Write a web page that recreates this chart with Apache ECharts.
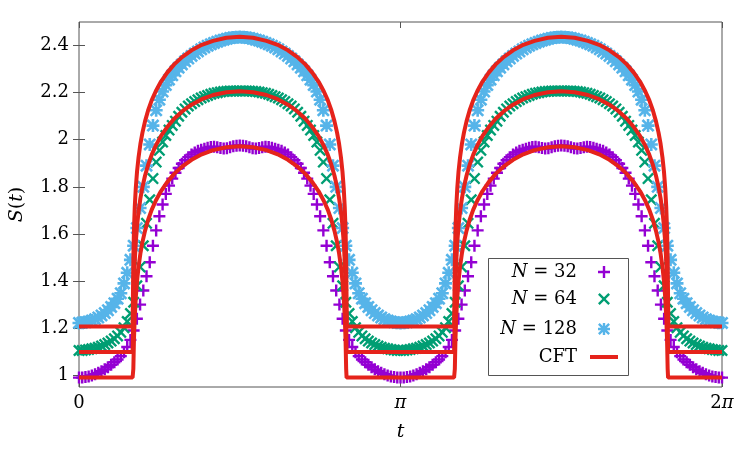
<!DOCTYPE html>
<html>
<head>
<meta charset="utf-8">
<script src="https://cdn.jsdelivr.net/npm/echarts@6/dist/echarts.min.js"></script>
<style>
  html, body { margin: 0; padding: 0; background: #fff; }
  #chart { width: 750px; height: 450px; }
</style>
</head>
<body>
<div id="chart"></div>
<script>
// lattice results, one period t in [0, pi), step pi/100 (the curve repeats with period pi)
const tStep = Math.PI / 100;
const n32Period = [
  0.99, 0.99, 0.992, 0.995, 0.999, 1.004, 1.01, 1.017, 1.025, 1.034, 1.044,
  1.055, 1.067, 1.081, 1.098, 1.12, 1.15, 1.19, 1.24, 1.30, 1.36,
  1.42, 1.48, 1.55, 1.615, 1.675, 1.725, 1.77, 1.805, 1.835, 1.86,
  1.88, 1.898, 1.913, 1.926, 1.937, 1.946, 1.953, 1.958, 1.962, 1.966,
  1.969, 1.97, 1.968, 1.965, 1.963, 1.964, 1.968, 1.972, 1.975, 1.976,
  1.975, 1.972, 1.968, 1.964, 1.963, 1.965, 1.968, 1.97, 1.969, 1.966,
  1.962, 1.958, 1.953, 1.946, 1.937, 1.926, 1.913, 1.898, 1.88, 1.86,
  1.835, 1.805, 1.77, 1.725, 1.675, 1.615, 1.55, 1.48, 1.42, 1.36,
  1.30, 1.24, 1.19, 1.15, 1.12, 1.098, 1.081, 1.067, 1.055, 1.044,
  1.034, 1.025, 1.017, 1.01, 1.004, 0.999, 0.995, 0.992, 0.99
];
const n64Period = [
  1.105, 1.105, 1.107, 1.109, 1.112, 1.115, 1.119, 1.124, 1.13, 1.137, 1.145,
  1.155, 1.167, 1.182, 1.202, 1.228, 1.262, 1.31, 1.38, 1.46, 1.55,
  1.645, 1.745, 1.835, 1.905, 1.955, 1.99, 2.018, 2.041, 2.061, 2.079,
  2.10, 2.117, 2.131, 2.143, 2.153, 2.162, 2.17, 2.177, 2.183, 2.188,
  2.193, 2.197, 2.2, 2.203, 2.205, 2.206, 2.207, 2.207, 2.207, 2.207,
  2.207, 2.207, 2.207, 2.206, 2.205, 2.203, 2.2, 2.197, 2.193, 2.188,
  2.183, 2.177, 2.17, 2.162, 2.153, 2.143, 2.131, 2.117, 2.10, 2.079,
  2.061, 2.041, 2.018, 1.99, 1.955, 1.905, 1.835, 1.745, 1.645, 1.55,
  1.46, 1.38, 1.31, 1.262, 1.228, 1.202, 1.182, 1.167, 1.155, 1.145,
  1.137, 1.13, 1.124, 1.119, 1.115, 1.112, 1.109, 1.107, 1.105
];
const n128Period = [
  1.222, 1.223, 1.225, 1.228, 1.232, 1.238, 1.245, 1.254, 1.264, 1.276, 1.29,
  1.306, 1.325, 1.348, 1.39, 1.435, 1.49, 1.55, 1.625, 1.71, 1.80,
  1.89, 1.98, 2.06, 2.125, 2.17, 2.205, 2.232, 2.255, 2.274, 2.291,
  2.306, 2.32, 2.333, 2.345, 2.356, 2.366, 2.375, 2.384, 2.392, 2.399,
  2.405, 2.411, 2.416, 2.421, 2.425, 2.429, 2.432, 2.434, 2.435, 2.436,
  2.435, 2.434, 2.432, 2.429, 2.425, 2.421, 2.416, 2.411, 2.405, 2.399,
  2.392, 2.384, 2.375, 2.366, 2.356, 2.345, 2.333, 2.32, 2.306, 2.291,
  2.274, 2.255, 2.232, 2.205, 2.17, 2.125, 2.06, 1.98, 1.89, 1.80,
  1.71, 1.625, 1.55, 1.49, 1.435, 1.39, 1.348, 1.325, 1.306, 1.29,
  1.276, 1.264, 1.254, 1.245, 1.238, 1.232, 1.228, 1.225, 1.223
];

// CFT curves, one period t in [0, pi]
const cftT = [
  0, 0.5236, 0.527, 0.531, 0.537, 0.545, 0.555, 0.567, 0.582, 0.6, 0.62, 0.645,
  0.675, 0.71, 0.75, 0.8, 0.86, 0.93, 1.01, 1.1, 1.2, 1.31, 1.44, 1.5708,
  1.7016, 1.8316, 1.9416, 2.0416, 2.1316, 2.2116, 2.2816, 2.3416, 2.3916, 2.4316,
  2.4666, 2.4966, 2.5216, 2.5416, 2.5596, 2.5746, 2.5866, 2.5966, 2.6046, 2.6106,
  2.6146, 2.618, 3.14159
];
const cft32Period = [
  0.99, 0.99, 0.99, 1.027, 1.152, 1.25, 1.331, 1.399, 1.461, 1.517, 1.565, 1.613,
  1.659, 1.702, 1.741, 1.781, 1.819, 1.855, 1.887, 1.915, 1.938, 1.956, 1.968, 1.972,
  1.968, 1.956, 1.938, 1.915, 1.887, 1.855, 1.819, 1.781, 1.741, 1.702,
  1.659, 1.613, 1.565, 1.517, 1.461, 1.399, 1.331, 1.25, 1.152, 1.027,
  0.99, 0.99, 0.99
];
const cft64Period = [
  1.099, 1.099, 1.099, 1.261, 1.386, 1.484, 1.565, 1.633, 1.695, 1.751, 1.799, 1.847,
  1.893, 1.936, 1.975, 2.015, 2.053, 2.089, 2.121, 2.149, 2.172, 2.19, 2.202, 2.206,
  2.202, 2.19, 2.172, 2.149, 2.121, 2.089, 2.053, 2.015, 1.975, 1.936,
  1.893, 1.847, 1.799, 1.751, 1.695, 1.633, 1.565, 1.484, 1.386, 1.261,
  1.099, 1.099, 1.099
];
const cft128Period = [
  1.207, 1.207, 1.328, 1.492, 1.617, 1.715, 1.796, 1.864, 1.926, 1.982, 2.03, 2.078,
  2.124, 2.167, 2.206, 2.246, 2.284, 2.32, 2.352, 2.38, 2.403, 2.42, 2.433, 2.437,
  2.433, 2.42, 2.403, 2.38, 2.352, 2.32, 2.284, 2.246, 2.206, 2.167,
  2.124, 2.078, 2.03, 1.982, 1.926, 1.864, 1.796, 1.715, 1.617, 1.492,
  1.328, 1.207, 1.207
];

const yTicks = [1, 1.2, 1.4, 1.6, 1.8, 2, 2.2, 2.4];
const xTicks = [0, Math.PI, 2 * Math.PI];

const font = "'DejaVu Serif', serif";
const red = '#e5231b';
const plusSym = 'path://M8,0H12V8H20V12H12V20H8V12H0V8H8Z';
const crossSym = 'path://M0,2.83L2.83,0L10,7.17L17.17,0L20,2.83L12.83,10L20,17.17L17.17,20L10,12.83L2.83,20L0,17.17L7.17,10Z';
const starSym = 'path://M8,0H12V8H20V12H12V20H8V12H0V8H8Z M0,2.83L2.83,0L10,7.17L17.17,0L20,2.83L12.83,10L20,17.17L17.17,20L10,12.83L2.83,20L0,17.17L7.17,10Z';

// two periods of the lattice data
function markerData(vals) {
  const out = [];
  for (let k = 0; k < 2; k++) {
    for (let i = 0; i < vals.length; i++) {
      out.push([(k * vals.length + i) * tStep, vals[i]]);
    }
  }
  out.push([2 * Math.PI, vals[0]]);
  return out;
}
function lineData(vals) {
  const out = [];
  for (let k = 0; k < 2; k++) {
    for (let i = 0; i < cftT.length; i++) {
      out.push([cftT[i] + k * Math.PI, vals[i]]);
    }
  }
  return out;
}

function keyRow(name, top, right, iconW, iconH, gap) {
  return {
    data: [name === 'CFT' ? { name: name, icon: 'rect' } : name],
    orient: 'vertical',
    top: top,
    right: right,
    align: 'right',
    padding: 0,
    itemWidth: iconW,
    itemHeight: iconH,
    selectedMode: false,
    formatter: function (n) {
      if (n === 'CFT') return 'CFT{g| }';
      return '{i|N}' + n.slice(1) + '{g| }';
    },
    textStyle: {
      fontFamily: font,
      fontSize: 18,
      color: '#000',
      lineHeight: 20,
      rich: {
        i: { fontFamily: font, fontStyle: 'italic', fontSize: 18, color: '#000' },
        g: { width: gap, fontSize: 18 }
      }
    }
  };
}

const chart = echarts.init(document.getElementById('chart'), null, { renderer: 'canvas' });

const option = {
  backgroundColor: '#fff',
  animation: false,
  grid: {
    left: 78, right: 28, top: 22, bottom: 63,
    show: true, borderColor: '#555', borderWidth: 1, backgroundColor: 'transparent'
  },
  xAxis: [
    {
      type: 'value', min: 0, max: 2 * Math.PI,
      name: 't', nameLocation: 'middle', nameGap: 36,
      nameTextStyle: { fontFamily: font, fontStyle: 'italic', fontSize: 19, color: '#000' },
      axisLine: { show: false },
      splitLine: { show: false },
      axisTick: { show: true, inside: true, length: 6, lineStyle: { color: '#555' }, customValues: xTicks },
      axisLabel: {
        customValues: xTicks, margin: 7,
        fontFamily: font, fontSize: 18, color: '#000',
        formatter: function (v) {
          if (Math.abs(v) < 1e-6) return '0';
          if (Math.abs(v - Math.PI) < 1e-6) return '{i|π}';
          return '2{i|π}';
        },
        rich: { i: { fontFamily: font, fontStyle: 'italic', fontSize: 18, color: '#000' } }
      }
    },
    {
      type: 'value', min: 0, max: 2 * Math.PI, position: 'top',
      axisLine: { show: false },
      splitLine: { show: false },
      axisLabel: { show: false },
      axisTick: { show: true, inside: true, length: 6, lineStyle: { color: '#555' }, customValues: xTicks }
    }
  ],
  yAxis: [
    {
      type: 'value', min: 0.95, max: 2.5,
      name: '{i|S}({i|t})', nameLocation: 'middle', nameGap: 52, nameRotate: 90,
      nameTextStyle: {
        fontFamily: font, fontSize: 19, color: '#000',
        rich: { i: { fontFamily: font, fontStyle: 'italic', fontSize: 19, color: '#000' } }
      },
      axisLine: { show: false },
      splitLine: { show: false },
      axisTick: { show: true, inside: true, length: 6, lineStyle: { color: '#555' }, customValues: yTicks },
      axisLabel: {
        customValues: yTicks, margin: 10,
        fontFamily: font, fontSize: 18, color: '#000',
        formatter: function (v) { return String(Math.round(v * 10) / 10); }
      }
    },
    {
      type: 'value', min: 0.95, max: 2.5, position: 'right',
      axisLine: { show: false },
      splitLine: { show: false },
      axisLabel: { show: false },
      axisTick: { show: true, inside: true, length: 6, lineStyle: { color: '#555' }, customValues: yTicks }
    }
  ],
  legend: [
    keyRow('N = 32', 262, 140, 12, 12, 16),
    keyRow('N = 64', 289, 140, 12, 12, 16),
    keyRow('N = 128', 319, 140, 12, 12, 16),
    keyRow('CFT', 347, 132, 28, 4, 8)
  ],
  graphic: [
    {
      type: 'rect', left: 488, top: 258, z: -1,
      shape: { width: 140, height: 117 },
      style: { fill: '#fff', stroke: '#555', lineWidth: 1 }
    }
  ],
  series: [
    {
      name: 'N = 32', type: 'scatter', clip: false,
      symbol: plusSym, symbolSize: 12,
      itemStyle: { color: '#9400d3', opacity: 1 },
      data: markerData(n32Period)
    },
    {
      name: 'N = 64', type: 'scatter', clip: false,
      symbol: crossSym, symbolSize: 12,
      itemStyle: { color: '#009e73', opacity: 1 },
      data: markerData(n64Period)
    },
    {
      name: 'N = 128', type: 'scatter', clip: false,
      symbol: starSym, symbolSize: 13,
      itemStyle: { color: '#56b4e9', opacity: 1 },
      data: markerData(n128Period)
    },
    {
      name: 'CFT', type: 'line', symbol: 'none', color: red,
      lineStyle: { color: red, width: 4 },
      data: lineData(cft32Period)
    },
    {
      name: 'CFT', type: 'line', symbol: 'none', color: red,
      lineStyle: { color: red, width: 4 },
      data: lineData(cft64Period)
    },
    {
      name: 'CFT', type: 'line', symbol: 'none', color: red,
      lineStyle: { color: red, width: 4 },
      data: lineData(cft128Period)
    }
  ]
};

chart.setOption(option);
</script>
</body>
</html>
